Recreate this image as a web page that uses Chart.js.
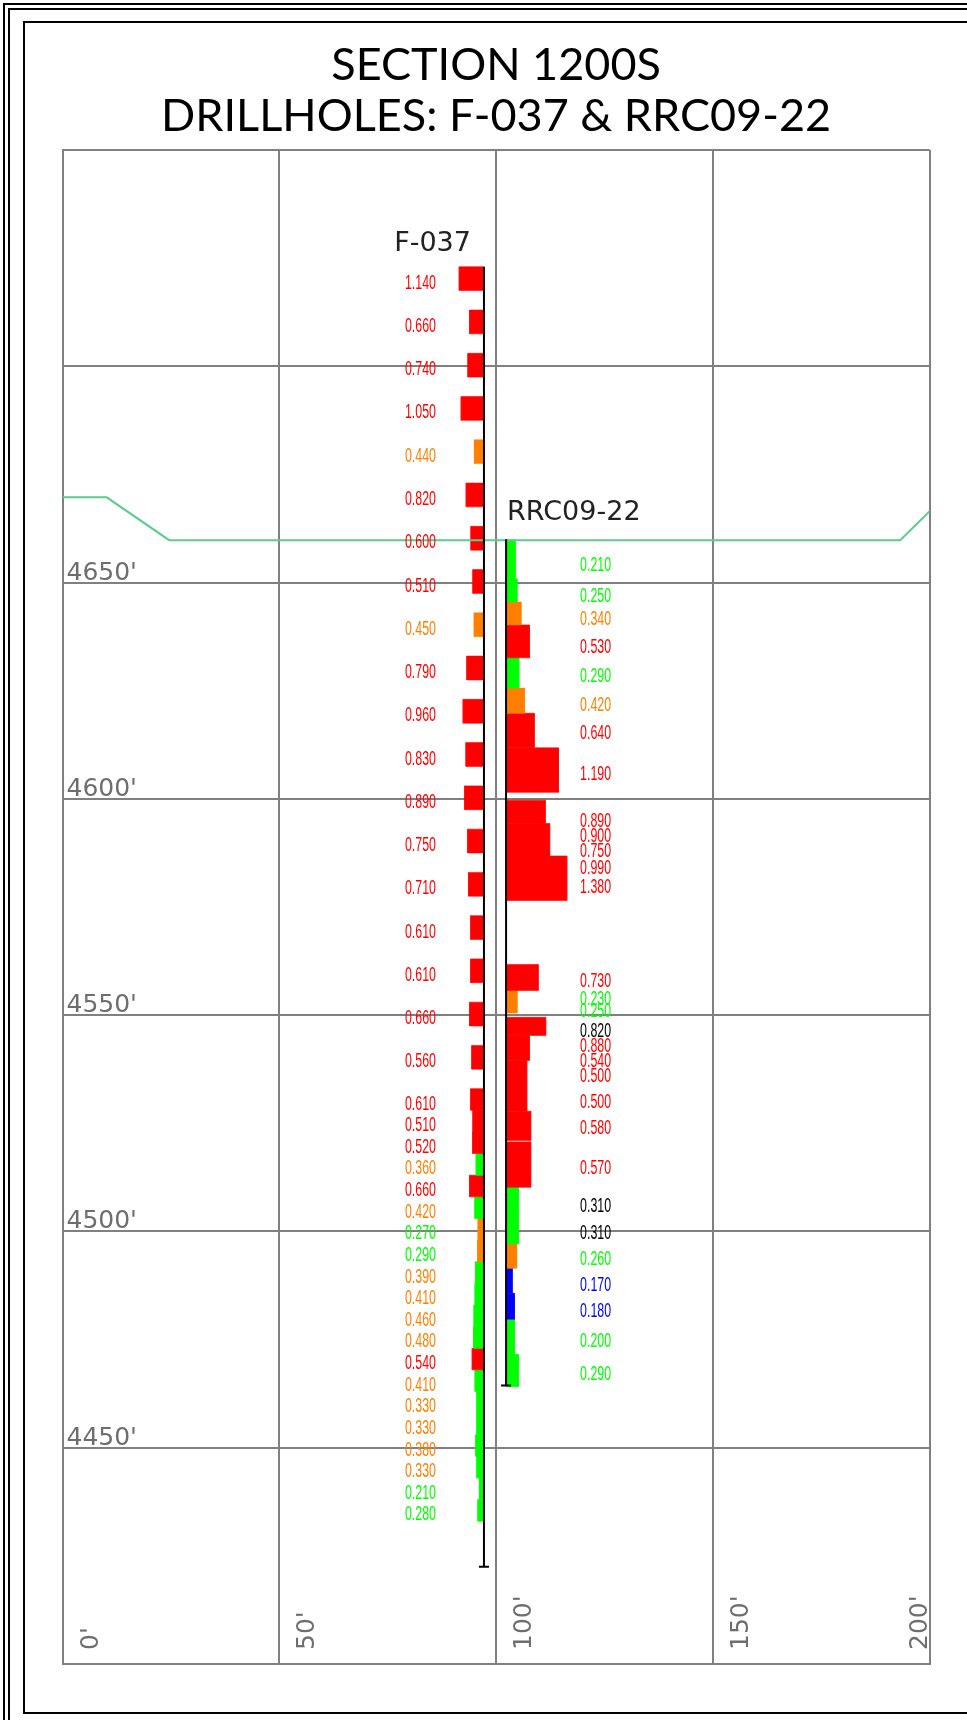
<!DOCTYPE html>
<html><head><meta charset="utf-8">
<script src="https://cdn.jsdelivr.net/npm/chart.js@4.4.1/dist/chart.umd.min.js"></script>
<style>html,body{margin:0;padding:0;background:#fff;}#wrap{width:967px;height:1720px;position:relative;}canvas{display:block;}</style>
</head><body><div id="wrap"><canvas id="c" width="967" height="1720"></canvas></div>
<script>
// ---------- DATA ----------
const titleLines = ['SECTION 1200S', 'DRILLHOLES: F-037 & RRC09-22'];
const xTickValues = [0, 50, 100, 150, 200];
const xTickLabels = ["0'", "50'", "100'", "150'", "200'"];
const yTickValues = [4650, 4600, 4550, 4500, 4450];
const yTickLabels = ["4650'", "4600'", "4550'", "4500'", "4450'"];

const holeNames = ['F-037', 'RRC09-22'];
const holeEasting = [97.2, 102.3];
const holeCollar = [4723.0, 4660.0];
const holeToe = [4422.5, 4464.4];

const topoEasting = [0, 10.2, 24.6, 193.2, 200];
const topoElev = [4669.7, 4669.7, 4659.8, 4659.8, 4666.5];

// F-037 assay intervals (elevation from / to, grade, bar colour class, label colour class)
const f037From = [4723,4713,4703,4693,4683,4673,4663,4653,4643,4633,4623,4613,4603,4593,4583,4573,4563,4553,4543,
                  4533,4528,4523,4518,4513,4508,4503,4498,4493,4488,4483,4478,4473,4468,4463,4458,4453,4448,4443,4438];
const f037To   = [4717.5,4707.5,4697.5,4687.5,4677.5,4667.5,4657.5,4647.5,4637.5,4627.5,4617.5,4607.5,4597.5,4587.5,4577.5,4567.5,4557.5,4547.5,4537.5,
                  4528,4523,4518,4513,4508,4503,4498,4493,4488,4483,4478,4473,4468,4463,4458,4453,4448,4443,4438,4433];
const f037Grade = [1.14,0.66,0.74,1.05,0.44,0.82,0.60,0.51,0.45,0.79,0.96,0.83,0.89,0.75,0.71,0.61,0.61,0.66,0.56,
                   0.61,0.51,0.52,0.36,0.66,0.42,0.27,0.29,0.39,0.41,0.46,0.48,0.54,0.41,0.33,0.33,0.38,0.33,0.21,0.28];
const f037BarClass   = ['R','R','R','R','O','R','R','R','O','R','R','R','R','R','R','R','R','R','R',
                        'R','R','R','G','R','G','O','O','G','G','G','G','R','G','G','G','G','G','G','G'];
const f037LabelClass = ['R','R','R','R','O','R','R','R','O','R','R','R','R','R','R','R','R','R','R',
                        'R','R','R','O','R','O','G','G','O','O','O','O','R','O','O','O','O','O','G','G'];

// RRC09-22 assay bars
const rrcFrom  = [4659.9,4650.9,4645.5,4640.2,4632.6,4625.6,4619.8,4611.8,4599.7,4594.3,4586.8,4561.7,4555.7,4549.5,4545.3,4539.5,4527.8,4520.7,4510.2,4497.1,4491.5,4485.7,4479.7,4471.6];
const rrcTo    = [4650.9,4645.5,4640.2,4632.6,4625.6,4619.8,4611.8,4601.5,4594.3,4586.8,4576.5,4555.7,4550.5,4545.3,4539.5,4527.8,4521.0,4510.2,4497.1,4491.5,4485.7,4479.7,4471.6,4464.1];
const rrcGrade = [0.21,0.25,0.34,0.53,0.29,0.42,0.64,1.19,0.89,0.99,1.38,0.73,0.25,0.90,0.53,0.47,0.56,0.56,0.28,0.24,0.14,0.19,0.19,0.28];
const rrcBarClass = ['G','G','O','R','G','O','R','R','R','R','R','R','O','R','R','R','R','R','G','O','B','B','G','G'];

// RRC09-22 assay labels
const rrcLabelElev = [4653.9,4646.8,4641.4,4635.0,4628.2,4621.5,4615.0,4605.6,4594.7,4591.4,4587.8,4584.0,4579.6,4557.7,4553.7,4550.9,4546.3,4542.8,4539.4,4535.9,4529.7,4523.9,4514.6,4505.8,4499.6,4493.5,4487.5,4481.5,4474.5,4467.0];
const rrcLabelText = ['0.210','0.250','0.340','0.530','0.290','0.420','0.640','1.190','0.890','0.900','0.750','0.990','1.380','0.730','0.230','0.250','0.820','0.880','0.540','0.500','0.500','0.580','0.570','0.310','0.310','0.260','0.170','0.180','0.200','0.290'];
const rrcLabelClass = ['G','G','O','R','G','O','R','R','R','R','R','R','R','R','G','G','K','R','R','R','R','R','R','K','K','G','B','B','G','G'];

// ---------- STYLE ----------
const classColor = {R:'#ff0000', O:'#ff8000', G:'#00ff00', B:'#0000ff', K:'#000000'};
const gradeScaleFt = [5.0, 10.15];   // feet of bar length per grade unit, per hole
const barSide = [-1, 1];            // bars drawn to the left of F-037, right of RRC09-22
const GRID = '#808080';

const datasets = [];
function addBars(hole, from, to, grade, cls) {
  const hx = holeEasting[hole];
  for (let i = 0; i < from.length; i++) {
    const w = grade[i] * gradeScaleFt[hole] * barSide[hole];
    const col = classColor[cls[i]];
    datasets.push({
      data: [{x: hx, y: from[i]}, {x: hx + w, y: from[i]}, {x: hx + w, y: to[i]}, {x: hx, y: to[i]}, {x: hx, y: from[i]}],
      showLine: true, fill: 'shape', backgroundColor: col, borderColor: col, borderWidth: 0.6,
      pointRadius: 0, tension: 0, order: 10
    });
  }
}
addBars(0, f037From, f037To, f037Grade, f037BarClass);
addBars(1, rrcFrom, rrcTo, rrcGrade, rrcBarClass);

datasets.push({
  data: topoEasting.map((x, i) => ({x, y: topoElev[i]})),
  showLine: true, fill: false, borderColor: '#5ccb8e', borderWidth: 2, pointRadius: 0, tension: 0, order: 5
});
for (let h = 0; h < holeNames.length; h++) {
  datasets.push({
    data: [{x: holeEasting[h], y: holeCollar[h]}, {x: holeEasting[h], y: holeToe[h]}],
    showLine: true, fill: false, borderColor: '#000', borderWidth: 2,
    pointStyle: 'line', pointRadius: [0, 5], pointBorderColor: '#000', pointBorderWidth: 2,
    pointBackgroundColor: '#000', tension: 0, order: 0
  });
}

function drawNarrow(ctx, text, x, y, color) {
  ctx.save();
  ctx.translate(x, y);
  ctx.scale(0.62, 1);
  ctx.fillStyle = color;
  ctx.textAlign = 'left';
  ctx.textBaseline = 'middle';
  ctx.font = '20px "Liberation Sans", Arial, sans-serif';
  ctx.fillText(text, 0, 0);
  ctx.restore();
}

const decor = {
  id: 'decor',
  beforeDraw(chart) {
    const ctx = chart.ctx;
    ctx.save();
    ctx.fillStyle = '#fff';
    ctx.fillRect(0, 0, chart.width, chart.height);
    ctx.strokeStyle = '#000';
    ctx.lineWidth = 2;
    ctx.beginPath();
    ctx.moveTo(4, chart.height); ctx.lineTo(4, 4); ctx.lineTo(chart.width, 4);
    ctx.moveTo(9, chart.height); ctx.lineTo(9, 9); ctx.lineTo(chart.width, 9);
    ctx.moveTo(chart.width, 22); ctx.lineTo(24, 22); ctx.lineTo(24, 1713); ctx.lineTo(chart.width, 1713);
    ctx.stroke();
    ctx.restore();
  },
  afterDatasetsDraw(chart) {
    const ctx = chart.ctx;
    const xs = chart.scales.x, ys = chart.scales.y, area = chart.chartArea;
    ctx.save();
    // axis labels
    ctx.fillStyle = '#6e6e6e';
    ctx.font = '25px "DejaVu Sans", sans-serif';
    ctx.textAlign = 'left';
    ctx.textBaseline = 'alphabetic';
    yTickValues.forEach((v, i) => {
      ctx.fillText(yTickLabels[i], area.left + 4, ys.getPixelForValue(v) - 3);
    });
    xTickValues.forEach((v, i) => {
      let bx = xs.getPixelForValue(v) + 35;
      if (bx > area.right) bx = area.right - 3;
      ctx.save();
      ctx.translate(bx, area.bottom - 14);
      ctx.rotate(-Math.PI / 2);
      ctx.fillText(xTickLabels[i], 0, 0);
      ctx.restore();
    });
    // hole names
    ctx.fillStyle = '#222';
    ctx.font = '27px "DejaVu Sans", sans-serif';
    ctx.textBaseline = 'middle';
    ctx.textAlign = 'right';
    ctx.fillText(holeNames[0], xs.getPixelForValue(holeEasting[0]) - 13, ys.getPixelForValue(holeCollar[0]) - 23);
    ctx.textAlign = 'left';
    ctx.fillText(holeNames[1], xs.getPixelForValue(holeEasting[1]) + 1, ys.getPixelForValue(holeCollar[1]) - 26);
    // grade labels
    const fx = xs.getPixelForValue(holeEasting[0]) - 79;
    f037Grade.forEach((g, i) => {
      const y = ys.getPixelForValue((f037From[i] + f037To[i]) / 2) + 4.5;
      drawNarrow(ctx, g.toFixed(3), fx, y, classColor[f037LabelClass[i]]);
    });
    const rx = xs.getPixelForValue(holeEasting[1]) + 74;
    rrcLabelText.forEach((t, i) => {
      drawNarrow(ctx, t, rx, ys.getPixelForValue(rrcLabelElev[i]), classColor[rrcLabelClass[i]]);
    });
    ctx.restore();
  }
};

new Chart(document.getElementById('c'), {
  type: 'scatter',
  data: {datasets},
  options: {
    responsive: false,
    animation: false,
    events: [],
    layout: {padding: {left: 62.5, right: 37.3, top: 0, bottom: 56}, autoPadding: false},
    plugins: {
      legend: {display: false},
      tooltip: {enabled: false},
      title: {
        display: true, text: titleLines, fullSize: false, align: 'center', color: '#000',
        font: {family: 'Lato', size: 45, weight: 'normal', lineHeight: 1.14},
        padding: {top: 40, bottom: 7.4}
      }
    },
    scales: {
      x: {type: 'linear', min: 0, max: 200,
          ticks: {display: false, stepSize: 50},
          grid: {color: GRID, lineWidth: 2, drawTicks: false},
          border: {display: true, color: GRID, width: 2}},
      y: {type: 'linear', min: 4400, max: 4750,
          ticks: {display: false, stepSize: 50},
          grid: {color: GRID, lineWidth: 2, drawTicks: false},
          border: {display: true, color: GRID, width: 2}}
    }
  },
  plugins: [decor]
});
</script>
</body></html>
